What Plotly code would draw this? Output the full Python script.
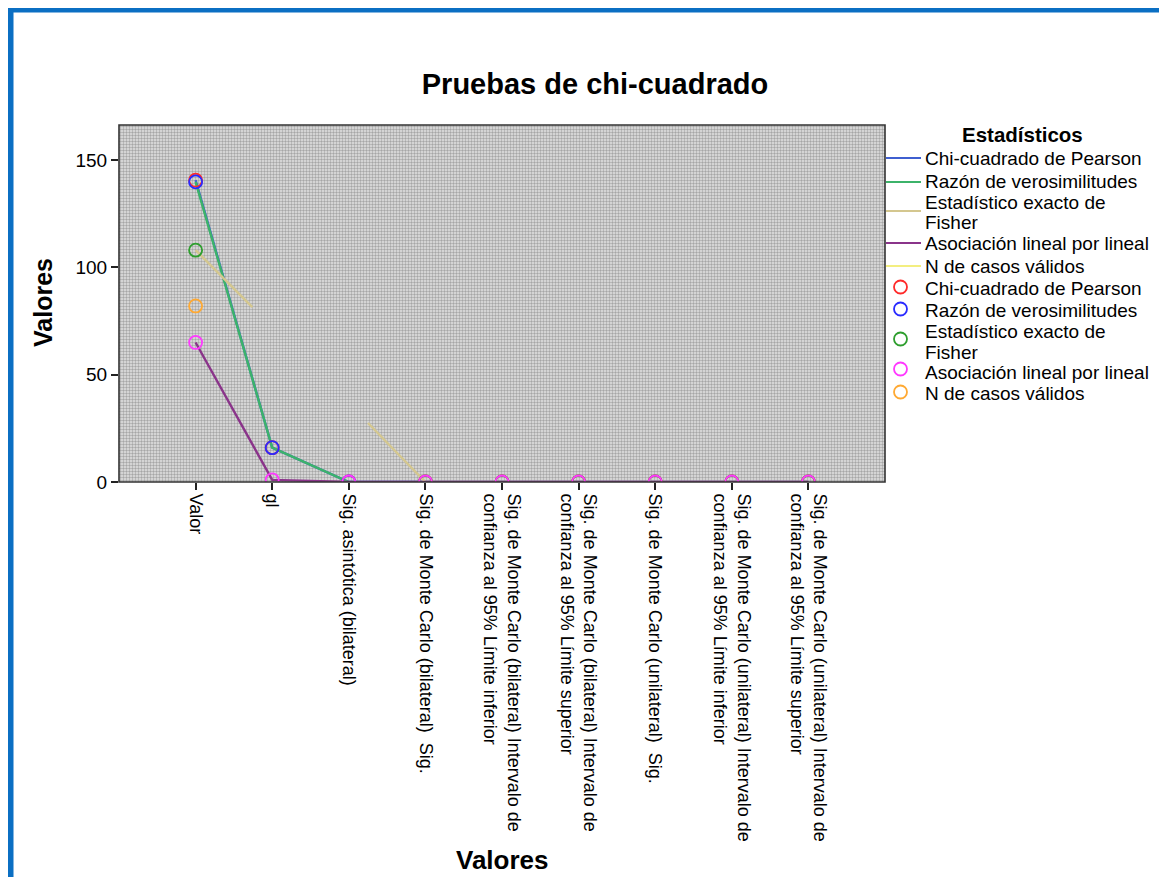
import plotly.graph_objects as go

# ---------------- data ----------------
categories = [
    "Valor",
    "gl",
    "Sig. asintótica (bilateral)",
    "Sig. de Monte Carlo (bilateral)\u00a0 Sig.",
    "Sig. de Monte Carlo (bilateral) Intervalo de<br>confianza al 95% Límite inferior",
    "Sig. de Monte Carlo (bilateral) Intervalo de<br>confianza al 95% Límite superior",
    "Sig. de Monte Carlo (unilateral)\u00a0 Sig.",
    "Sig. de Monte Carlo (unilateral) Intervalo de<br>confianza al 95% Límite inferior",
    "Sig. de Monte Carlo (unilateral) Intervalo de<br>confianza al 95% Límite superior",
]
series_names = [
    "Chi-cuadrado de Pearson",
    "Razón de verosimilitudes",
    "Estadístico exacto de<br>Fisher",
    "Asociación lineal por lineal",
    "N de casos válidos",
]
pearson = [140.6, 16, 0, 0, 0, 0, 0, 0, 0]
razon = [139.8, 16, 0, None, None, None, None, None, None]
fisher = [108, None, None, 0, 0, 0, 0, 0, 0]
asociacion = [65, 1, 0, 0, 0, 0, 0, 0, 0]
n_validos = [82, None, None, None, None, None, None, None, None]

# Fisher line as drawn (broken segments between category positions)
fisher_line_pos = [0, 0.74, None, 2.25, 3, 4, 5, 6, 7, 8]
fisher_line_vals = [108, 81.5, None, 27.5, 0, 0, 0, 0, 0, 0]

y_ticks = [0, 50, 100, 150]
y_max = 166.3
legend_title = "Estadísticos"

# ---------------- style ----------------
line_colors = ["#3f5fd0", "#3cb36a", "#d4c78f", "#8a348a", "#f3ee80"]
marker_colors = ["#ff2a2a", "#2a2aff", "#2e9e2e", "#ff38ff", "#ffa932"]
FONT = "Liberation Sans, Arial, sans-serif"

OFF = 8                      # page body margin
W, H = 1167 - OFF, 877 - OFF
L, R, T, B = 119 - OFF, 885 - OFF, 125 - OFF, 482 - OFF
PW, PH = R - L, B - T


def pxx(p):  # page pixel -> paper x
    return (p - OFF - L) / PW


def pxy(p):  # page pixel -> paper y
    return (B - (p - OFF)) / PH


xpos = list(range(len(categories)))
values = [pearson, razon, fisher, asociacion, n_validos]

fig = go.Figure()

# stippled plot background
fig.add_trace(go.Scatter(
    x=[-1, 9, 9, -1, -1], y=[0, 0, y_max, y_max, 0],
    mode="none", fill="toself", fillcolor="rgba(0,0,0,0)",
    fillpattern=dict(shape=".", bgcolor="#e2e2e2", fgcolor="#6a6a6a",
                     size=3, solidity=0.5),
    showlegend=False, hoverinfo="skip",
))

# line traces
for i, (name, vals) in enumerate(zip(series_names, values)):
    if i == 2:
        xs, ys = fisher_line_pos, fisher_line_vals
    else:
        xs, ys = xpos, vals
    fig.add_trace(go.Scatter(
        x=xs, y=ys, mode="lines", name=name.replace("<br>", " "),
        line=dict(color=line_colors[i], width=2.4),
        connectgaps=False, showlegend=False,
    ))

# marker traces
for i, (name, vals) in enumerate(zip(series_names, values)):
    fig.add_trace(go.Scatter(
        x=xpos, y=vals, mode="markers", name=name.replace("<br>", " "),
        marker=dict(symbol="circle-open", size=13,
                    color=marker_colors[i], line=dict(width=1.8, color=marker_colors[i])),
        showlegend=False,
    ))

shapes = [
    # blue outer frame (top and left edges)
    dict(type="rect", xref="paper", yref="paper",
         x0=pxx(8), x1=pxx(1167 + 10), y0=pxy(12.5), y1=pxy(7),
         fillcolor="#0b6fc3", line=dict(width=0), layer="above"),
    dict(type="rect", xref="paper", yref="paper",
         x0=pxx(8), x1=pxx(13.5), y0=pxy(877 + 10), y1=pxy(7),
         fillcolor="#0b6fc3", line=dict(width=0), layer="above"),
    # plot frame
    dict(type="rect", xref="paper", yref="paper", x0=0, x1=1, y0=0, y1=1,
         line=dict(color="#333333", width=1.6), layer="above"),
]

annotations = [
    dict(text="<b>Valores</b>", xref="paper", yref="paper",
         x=pxx(502), y=pxy(860), showarrow=False,
         font=dict(family=FONT, size=26, color="#000"),
         xanchor="center", yanchor="middle"),
    dict(text="<b>Valores</b>", xref="paper", yref="paper",
         x=pxx(43), y=pxy(303), showarrow=False, textangle=-90,
         font=dict(family=FONT, size=25, color="#000"),
         xanchor="center", yanchor="middle"),
    dict(text="<b>%s</b>" % legend_title, xref="paper", yref="paper",
         x=pxx(1022), y=pxy(134), showarrow=False,
         font=dict(family=FONT, size=20.5, color="#000"),
         xanchor="center", yanchor="middle"),
]

# ---- hand-built legend (lines first, then markers) ----
LEG_FONT = dict(family=FONT, size=19, color="#000")
line_rows = [158, 181.5, (202, 222.5), 243, 266]
marker_rows = [288, 310, (331.5, 352), 372.5, 393.5]
line_sample_y = [158, 182, 211, 243, 266]
marker_sample_y = [287, 309, 339, 369, 392]


def add_label(name, row):
    parts = name.split("<br>")
    ys = row if isinstance(row, tuple) else (row,)
    for txt, yy in zip(parts, ys):
        annotations.append(dict(text=txt, xref="paper", yref="paper",
                                x=pxx(924), y=pxy(yy), showarrow=False,
                                font=LEG_FONT, xanchor="left", yanchor="middle",
                                borderpad=0))


for i, name in enumerate(series_names):
    shapes.append(dict(type="line", xref="paper", yref="paper",
                       x0=pxx(886), x1=pxx(921),
                       y0=pxy(line_sample_y[i]), y1=pxy(line_sample_y[i]),
                       line=dict(color=line_colors[i], width=2)))
    add_label(name, line_rows[i])

for i, name in enumerate(series_names):
    cy = marker_sample_y[i]
    shapes.append(dict(type="circle", xref="paper", yref="paper",
                       x0=pxx(894), x1=pxx(907), y0=pxy(cy + 6.5), y1=pxy(cy - 6.5),
                       line=dict(color=marker_colors[i], width=1.8),
                       fillcolor="rgba(0,0,0,0)"))
    add_label(name, marker_rows[i])

fig.update_layout(
    width=W, height=H,
    margin=dict(l=L, r=W - R, t=T, b=H - B, autoexpand=False),
    paper_bgcolor="#ffffff", plot_bgcolor="#bdbdbd",
    font=dict(family=FONT, color="#000"),
    title=dict(text="<b>Pruebas de chi-cuadrado</b>", xref="container", yref="container",
               x=(595 - OFF) / W, y=1 - (84 - OFF) / H, xanchor="center", yanchor="middle",
               font=dict(family=FONT, size=29, color="#000")),
    xaxis=dict(range=[-1, 9], tickmode="array", tickvals=xpos, ticktext=categories,
               tickangle=90, ticks="outside", ticklen=7, tickwidth=2, tickcolor="#222",
               showgrid=False, zeroline=False, showline=False,
               tickfont=dict(family=FONT, size=18, color="#000")),
    yaxis=dict(range=[0, y_max], tickmode="array", tickvals=y_ticks,
               ticks="outside", ticklen=7, tickwidth=2, tickcolor="#222",
               showgrid=False, zeroline=False, showline=False,
               tickfont=dict(family=FONT, size=19, color="#000")),
    shapes=shapes,
    annotations=annotations,
    showlegend=False,
)

fig.write_html("out.html")
